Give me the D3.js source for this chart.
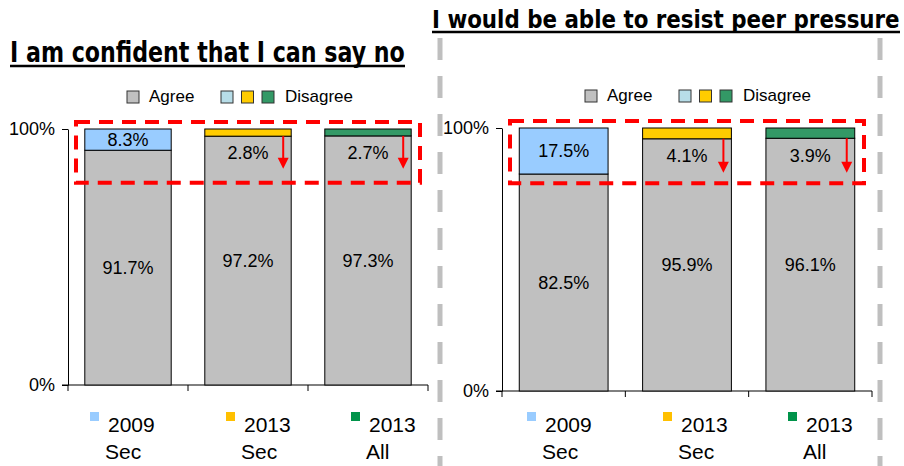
<!DOCTYPE html>
<html>
<head>
<meta charset="utf-8">
<script src="https://cdn.jsdelivr.net/npm/d3@7"></script>
<style>
  body { margin: 0; background: #fff; }
  svg { display: block; }
  text { font-family: "Liberation Sans", Arial, sans-serif; fill: #000; }
</style>
</head>
<body>
<svg width="904" height="466"></svg>
<script>
const categories = ['2009 Sec', '2013 Sec', '2013 All']
const catLines = [['2009', 'Sec'], ['2013', 'Sec'], ['2013', 'All']]
const confidentAgree = [91.7, 97.2, 97.3]
const confidentDisagree = [8.3, 2.8, 2.7]
const resistAgree = [82.5, 95.9, 96.1]
const resistDisagree = [17.5, 4.1, 3.9]
const yTicks = [0, 100]

const agreeColor = '#c0c0c0'
const disagreeColors = ['#99ccff', '#ffcc00', '#339966']
const swatchColors = ['#b7dde8', '#ffcc00', '#339966']
const bottomColors = ['#99ccff', '#ffc000', '#00934a']

const svg = d3.select('svg')

// grey dashed separators
svg.selectAll('.sep')
  .data([440, 880])
  .enter().append('line')
    .attr('x1', d => d).attr('x2', d => d)
    .attr('y1', 38).attr('y2', 466)
    .attr('stroke', '#bfbfbf')
    .attr('stroke-width', 5)
    .attr('stroke-dasharray', '22,16')

drawPanel({
  title: 'I am confident that I can say no',
  titleX: 10, titleY: 62, titleW: 395, titleSize: 28,
  left: 68, right: 428, top: 129, bottom: 385,
  legendX: 127, legendStart: 90,
  agree: confidentAgree, disagree: confidentDisagree,
  arrowBars: [1, 2], arrowTo: 84.5
})

drawPanel({
  title: 'I would be able to resist peer pressure',
  titleX: 432, titleY: 28, titleW: 468, titleSize: 24,
  left: 502, right: 872, top: 128, bottom: 391,
  legendX: 585, legendStart: 527,
  agree: resistAgree, disagree: resistDisagree,
  arrowBars: [1, 2], arrowTo: 83
})

function drawPanel(p) {
  let g = svg.append('g')

  // title, squeezed horizontally to the target width, with underline
  let t = g.append('text')
    .attr('x', 0).attr('y', 0)
    .style('font-family', '"DejaVu Sans", sans-serif')
    .attr('font-weight', 'bold')
    .attr('font-size', p.titleSize)
    .text(p.title)
  let natural = t.node().getComputedTextLength()
  t.attr('transform', `translate(${p.titleX},${p.titleY}) scale(${p.titleW / natural},1)`)
  g.append('line')
    .attr('x1', p.titleX).attr('x2', p.titleX + p.titleW)
    .attr('y1', p.titleY + 4).attr('y2', p.titleY + 4)
    .attr('stroke', '#000').attr('stroke-width', 2.5)

  let x = d3.scaleBand()
    .domain(categories)
    .range([p.left, p.right])
    .paddingInner(0.28)
    .paddingOuter(0.14)
  let y = d3.scaleLinear().domain([0, 100]).range([p.bottom, p.top])

  // axes
  g.append('g')
    .attr('transform', `translate(${p.left},0)`)
    .call(d3.axisLeft(y).tickValues(yTicks).tickFormat(d => d + '%').tickSize(6).tickSizeOuter(0))
    .call(a => a.selectAll('text').attr('font-size', 18).attr('dx', -4).style('font-family', '"Liberation Sans", Arial'))
    .call(a => a.select('.domain').attr('stroke', '#000'))

  let step = (p.right - p.left) / categories.length
  let xa = g.append('g').attr('transform', `translate(0,${p.bottom})`)
  xa.append('line')
    .attr('x1', p.left - 6).attr('x2', p.right)
    .attr('stroke', '#000')
  xa.selectAll('.xt')
    .data(d3.range(categories.length + 1))
    .enter().append('line')
      .attr('x1', i => p.left + i * step).attr('x2', i => p.left + i * step)
      .attr('y1', 0).attr('y2', 6)
      .attr('stroke', '#000')

  // bars
  let bars = g.selectAll('.bar')
    .data(categories.map((c, i) => ({ c, i, agree: p.agree[i], dis: p.disagree[i] })))
    .enter().append('g')

  bars.append('rect')
    .attr('x', d => x(d.c)).attr('width', x.bandwidth())
    .attr('y', d => y(d.agree)).attr('height', d => y(0) - y(d.agree))
    .attr('fill', agreeColor).attr('stroke', '#000').attr('stroke-width', 1)
  bars.append('rect')
    .attr('x', d => x(d.c)).attr('width', x.bandwidth())
    .attr('y', d => y(100)).attr('height', d => y(d.agree) - y(100))
    .attr('fill', d => disagreeColors[d.i]).attr('stroke', '#000').attr('stroke-width', 1)

  bars.append('text')
    .attr('x', d => x(d.c) + x.bandwidth() / 2)
    .attr('y', d => y(d.agree / 2))
    .attr('dy', '0.35em')
    .attr('text-anchor', 'middle')
    .attr('font-size', 18)
    .text(d => d.agree.toFixed(1) + '%')

  bars.append('text')
    .attr('x', d => x(d.c) + x.bandwidth() / 2)
    .attr('y', d => d.dis > 5 ? y(100 - d.dis / 2) : y(d.agree) + 17)
    .attr('dy', '0.35em')
    .attr('text-anchor', 'middle')
    .attr('font-size', 18)
    .text(d => d.dis.toFixed(1) + '%')

  // red dashed highlight box
  g.append('rect')
    .attr('x', p.left + 8).attr('y', y(100) - 7)
    .attr('width', p.right - p.left - 16)
    .attr('height', y(79) - y(100) + 7)
    .attr('fill', 'none')
    .attr('stroke', '#ff0000').attr('stroke-width', 4)
    .attr('stroke-dasharray', '14,9')

  // red arrows
  p.arrowBars.forEach(i => {
    let ax = x(categories[i]) + x.bandwidth() - 8
    let y0 = y(p.agree[i]), y1 = y(p.arrowTo)
    g.append('line')
      .attr('x1', ax).attr('x2', ax)
      .attr('y1', y0).attr('y2', y1 - 8)
      .attr('stroke', '#ff0000').attr('stroke-width', 2)
    g.append('path')
      .attr('d', `M${ax - 5.5},${y1 - 11}L${ax + 5.5},${y1 - 11}L${ax},${y1}Z`)
      .attr('fill', '#ff0000')
  })

  // top legend
  let lg = g.append('g').attr('transform', `translate(${p.legendX},${y(100) - 38})`)
  lg.append('rect').attr('width', 12).attr('height', 12)
    .attr('fill', agreeColor).attr('stroke', '#333')
  lg.append('text').attr('x', 22).attr('y', 11).attr('font-size', 17).text('Agree')
  swatchColors.forEach((c, i) => {
    lg.append('rect').attr('x', 94 + i * 20.5).attr('width', 12).attr('height', 12)
      .attr('fill', c).attr('stroke', '#333')
  })
  lg.append('text').attr('x', 158).attr('y', 11).attr('font-size', 17).text('Disagree')

  // bottom legend
  let legendOffsets = [0, 136, 261]
  let bl = g.selectAll('.bl')
    .data(catLines)
    .enter().append('g')
      .attr('transform', (d, i) => `translate(${p.legendStart + legendOffsets[i]},412)`)
  bl.append('rect')
    .attr('width', 9).attr('height', 9)
    .attr('fill', (d, i) => bottomColors[i])
  bl.append('text').attr('x', 18).attr('y', 20).attr('font-size', 21).text(d => d[0])
  bl.append('text').attr('x', 15).attr('y', 47).attr('font-size', 21).text(d => d[1])
}
</script>
</body>
</html>
